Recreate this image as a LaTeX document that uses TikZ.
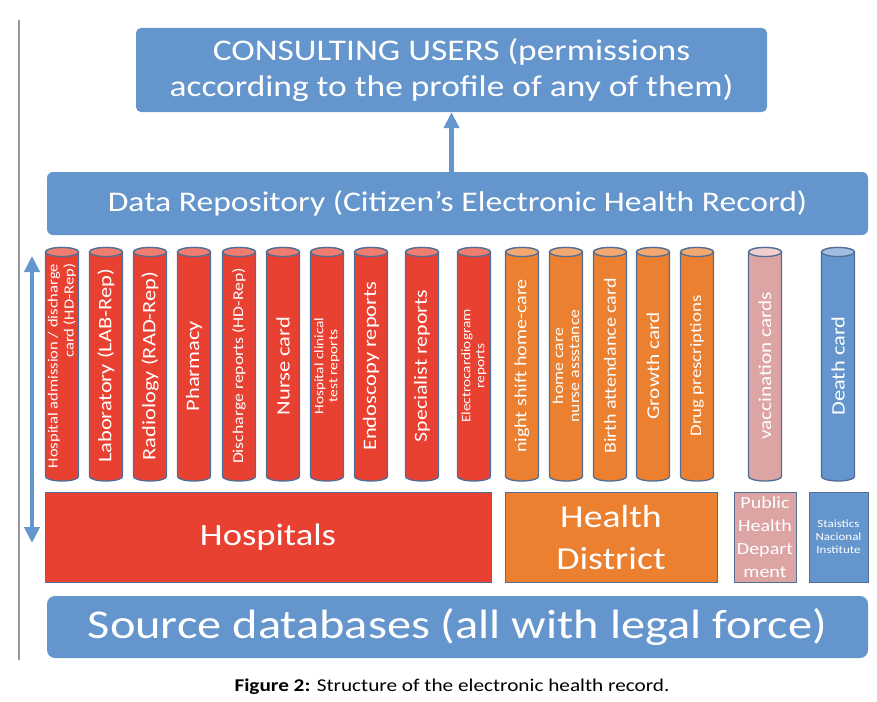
\documentclass[tikz,border=0pt]{standalone}
\usepackage{fontspec}
\setmainfont{Carlito}[FakeStretch=1.18]
\usetikzlibrary{arrows.meta}
\definecolor{boxblue}{RGB}{100,149,205}
\definecolor{hosred}{RGB}{232,65,50}
\definecolor{hosredtop}{RGB}{240,125,112}
\definecolor{distorange}{RGB}{234,128,48}
\definecolor{distorangetop}{RGB}{242,168,112}
\definecolor{pubpink}{RGB}{221,164,164}
\definecolor{pubpinktop}{RGB}{238,206,206}
\definecolor{statbluetop}{RGB}{160,190,225}
\definecolor{rim}{RGB}{80,110,150}
\definecolor{frameline}{RGB}{150,150,160}
\tikzset{
    bluebox/.style={fill=boxblue, rounded corners=5pt, text=white, align=center, inner sep=0pt},
    srcbox/.style={draw=rim, line width=1pt, text=white, align=center, inner sep=0pt, minimum height=90pt},
    flow/.style={draw=boxblue, line width=4.5pt, -{Triangle[width=15pt,length=16pt]}},
    dbrim/.style={draw=rim, line width=1.3pt},
    dblabel/.style={rotate=90, text=white, inner sep=0pt}
}
\begin{document}
\begin{tikzpicture}[x=1pt, y=-1pt]
    \useasboundingbox (0,0) rectangle (877,701);
    % Page frame line on the left
    \draw[frameline, line width=1.5pt] (19,20) -- (19,660);

    % Consulting users and repository
    \node[bluebox, minimum width=631pt, minimum height=84pt, font=\fontsize{30}{36}\selectfont] (users) at (451.5,70)
        {CONSULTING USERS (permissions\\according to the profile of any of them)};
    \node[bluebox, rounded corners=6pt, minimum width=821pt, minimum height=63pt, font=\fontsize{28.5}{32}\selectfont] (repo) at (457.5,203.5)
        {Data Repository (Citizen’s Electronic Health Record)};
    \draw[flow] (repo.north -| users.south) -- (users.south);

    % Draw the report cylinders
    \foreach \cx/\lbl/\body/\cap/\fs/\lead/\al [count=\i] in {
            62/{Hospital admission / discharge\\card (HD-Rep)}/hosred/hosredtop/14/16/right,
            106/{Laboratory (LAB-Rep)}/hosred/hosredtop/19/21/center,
            150/{Radiology (RAD-Rep)}/hosred/hosredtop/19/21/center,
            194/{Pharmacy}/hosred/hosredtop/19/21/center,
            239/{Discharge reports (HD-Rep)}/hosred/hosredtop/15/17/center,
            283/{Nurse card}/hosred/hosredtop/19/21/center,
            327/{Hospital clinical\\test reports}/hosred/hosredtop/13/14/center,
            371/{Endoscopy reports}/hosred/hosredtop/19/21/center,
            422/{Specialist reports}/hosred/hosredtop/18.5/20/center,
            474/{Electrocardiogram\\reports}/hosred/hosredtop/13/14/center,
            522/{night shift home-care}/distorange/distorangetop/17/19/center,
            566/{home care\\nurse assstance}/distorange/distorangetop/15/16/center,
            610/{Birth attendance card}/distorange/distorangetop/17/19/center,
            653/{Growth card}/distorange/distorangetop/18/20/center,
            697/{Drug prescriptions}/distorange/distorangetop/16/18/center,
            765/{vaccination cards}/pubpink/pubpinktop/18/20/center,
            838/{Death card}/boxblue/statbluetop/19/21/center} {
            \filldraw[dbrim, fill=\body] (\cx-16.5,252) -- (\cx-16.5,476.5)
                arc[start angle=180, end angle=360, x radius=16.5pt, y radius=4.5pt]
                -- (\cx+16.5,252)
                arc[start angle=0, end angle=180, x radius=16.5pt, y radius=4.5pt] -- cycle;
            \filldraw[dbrim, fill=\cap] (\cx,252) ellipse [x radius=16.5pt, y radius=4.5pt];
            \node[dblabel, align=\al, font=\fontsize{\fs}{\lead}\selectfont] (rep\i) at (\cx,366) {\lbl};
        }

    % Source databases
    \node[srcbox, fill=hosred, minimum width=446pt, font=\fontsize{31}{35}\selectfont] (hosp) at (268,537) {Hospitals};
    \node[srcbox, fill=distorange, minimum width=212pt, font=\fontsize{32}{42}\selectfont] (dist) at (611,537) {Health\\District};
    \node[srcbox, fill=pubpink, minimum width=62pt, font=\fontsize{17}{23}\selectfont] (pub) at (765,537) {Public\\Health\\Depart\\ment};
    \node[srcbox, fill=boxblue, minimum width=59pt, font=\fontsize{11}{13}\selectfont] (stat) at (838.5,537) {Staistics\\Nacional\\Institute};
    \node[bluebox, rounded corners=8pt, minimum width=821pt, minimum height=62pt, font=\fontsize{41}{44}\selectfont] (src) at (457.5,627)
        {Source databases (all with legal force)};

    % Up and down through the layers
    \coordinate (uptop) at (32,256);
    \coordinate (updown) at (32,543);
    \draw[flow, {Triangle[width=15pt,length=16pt]}-{Triangle[width=15pt,length=16pt]}] (updown) -- (uptop);

    % Caption
    \node[font=\fontsize{18}{22}\selectfont] (caption) at (452,687) {\textbf{Figure 2:} Structure of the electronic health record.};
\end{tikzpicture}
\end{document}
